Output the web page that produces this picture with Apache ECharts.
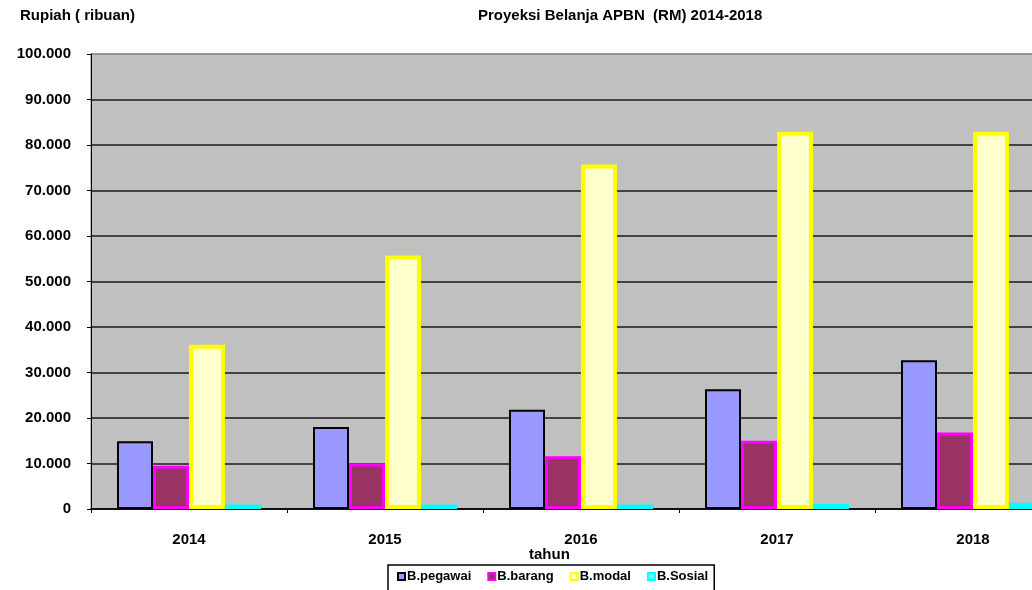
<!DOCTYPE html>
<html>
<head>
<meta charset="utf-8">
<script src="https://cdn.jsdelivr.net/npm/echarts@6/dist/echarts.min.js"></script>
<style>
  html, body { margin: 0; padding: 0; background: #fff; }
  #chart { width: 1032px; height: 590px; }
</style>
</head>
<body>
<div id="chart"></div>
<script>
const categories = ['2014', '2015', '2016', '2017', '2018'];
const pegawai = [14900, 18000, 21800, 26300, 32700];
const barang  = [9500, 10000, 11600, 15000, 16800];
const modal   = [36100, 55700, 75700, 82900, 82900];
const sosial  = [1000, 1000, 1000, 1100, 1400];
const seriesNames = ['B.pegawai', 'B.barang', 'B.modal', 'B.Sosial'];
const titleText = 'Proyeksi Belanja APBN  (RM) 2014-2018';
const yAxisTitle = 'Rupiah ( ribuan)';
const xAxisTitle = 'tahun';

const FONT = '"Liberation Sans", Arial, sans-serif';
function fmt(v) { return String(v).replace(/\B(?=(\d{3})+(?!\d))/g, '.'); }

const chart = echarts.init(document.getElementById('chart'), null, { renderer: 'canvas' });
const barW = 36;
const styles = [
  { color: '#9999FF', borderColor: '#000000', borderWidth: 2 },
  { color: '#993366', borderColor: '#FF00FF', borderWidth: 3 },
  { color: '#FFFFCC', borderColor: '#FFFF00', borderWidth: 4 },
  { color: '#66FFFF', borderColor: '#00FFFF', borderWidth: 3 }
];
const datas = [pegawai, barang, modal, sosial];
const gridLineColors = ['#1a1a1a','#1a1a1a','#1a1a1a','#1a1a1a','#1a1a1a','#1a1a1a','#1a1a1a','#1a1a1a','#1a1a1a','#1a1a1a','#8a8a8a'];

chart.setOption({
  animation: false,
  backgroundColor: '#ffffff',
  grid: {
    left: 91, width: 980, top: 54, height: 455,
    containLabel: false,
    outerBoundsMode: 'none',
    show: true, backgroundColor: '#C0C0C0',
    borderColor: '#808080', borderWidth: 1
  },
  xAxis: {
    type: 'category',
    data: categories,
    axisLine: { show: true, lineStyle: { color: '#000', width: 1.5 } },
    axisTick: { show: true, length: 4, alignWithLabel: false, lineStyle: { color: '#000' } },
    axisLabel: { margin: 23, color: '#000', fontFamily: FONT, fontWeight: 'bold', fontSize: 15 },
    splitLine: { show: false }
  },
  yAxis: {
    type: 'value',
    min: 0, max: 100000, interval: 10000,
    axisLine: { show: true, lineStyle: { color: '#000', width: 1 } },
    axisTick: { show: true, length: 4, lineStyle: { color: '#000' } },
    axisLabel: { margin: 20, color: '#000', fontFamily: FONT, fontWeight: 'bold', fontSize: 15, formatter: fmt },
    splitLine: { show: true, lineStyle: { color: gridLineColors, width: 1.5 } }
  },
  legend: {
    data: seriesNames,
    left: 388, top: 565,
    orient: 'horizontal',
    icon: 'rect',
    itemWidth: 7, itemHeight: 7, itemGap: 16,
    padding: [5, 6, 10, 9],
    borderColor: '#000', borderWidth: 1.5,
    backgroundColor: '#fff',
    textStyle: { color: '#000', fontFamily: FONT, fontWeight: 'bold', fontSize: 13, padding: [0, 0, 0, -3] }
  },
  graphic: [
    { type: 'text', left: 20, top: 8, style: { text: yAxisTitle, font: 'bold 15px ' + FONT, fill: '#000' } },
    { type: 'text', left: 478, top: 8, style: { text: titleText, font: 'bold 15px ' + FONT, fill: '#000' } },
    { type: 'text', left: 529, top: 547, style: { text: xAxisTitle, font: 'bold 15px ' + FONT, fill: '#000' } }
  ],
  series: seriesNames.map((n, i) => ({
    name: n,
    type: 'bar',
    data: datas[i],
    barWidth: barW,
    barGap: '0%',
    itemStyle: styles[i],
    emphasis: { disabled: true }
  }))
});
</script>
</body>
</html>
